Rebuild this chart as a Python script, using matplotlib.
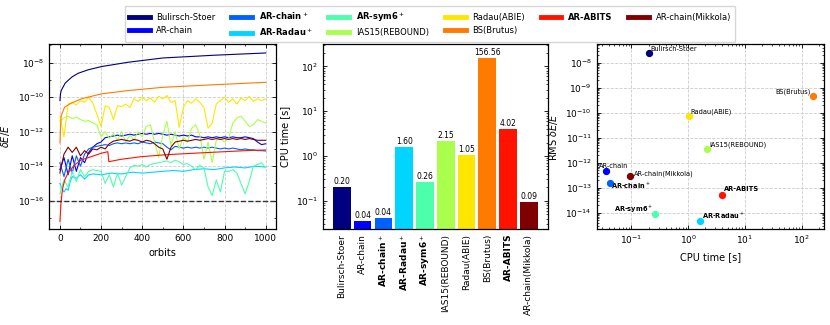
import matplotlib
matplotlib.use("Agg")
import matplotlib.pyplot as plt
import numpy as np
from matplotlib.ticker import AutoMinorLocator, LogLocator, NullFormatter

# * Data

names = ['Bulirsch-Stoer', 'AR-chain', 'AR-chain$^+$', 'AR-Radau$^+$', 'AR-sym6$^+$',
         'IAS15(REBOUND)', 'Radau(ABIE)', 'BS(Brutus)', 'AR-ABITS', 'AR-chain(Mikkola)']
bold = [False, False, True, True, True, False, False, False, True, False]

# CPU time [s] and RMS dE/E per integrator
cpu_time = [0.20, 0.036, 0.041, 1.60, 0.26, 2.15, 1.05, 156.56, 4.02, 0.094]
rms_err = [2.5e-8, 4.8e-13, 1.6e-13, 4.6e-15, 8.9e-15, 3.6e-12, 7.4e-11, 4.8e-10, 5.1e-14, 2.9e-13]

# energy error curves, log10(dE/E)
t20 = np.arange(0, 1001, 20)

bs_t = [0.5, 3, 7, 15, 25, 39, 60, 88, 136, 201, 330, 500, 750, 1000]
bs_log = [-10.2, -9.8, -9.6, -9.43, -9.2, -9.04, -8.82, -8.62, -8.42, -8.23, -7.98, -7.73, -7.57, -7.44]

arc_log = [-14.2, -13.5, -14.5, -13.4, -14.3, -13.5, -13.8, -13.2, -12.9, -12.7,
           -12.6, -12.35, -12.3, -12.25, -12.2, -12.25, -12.2, -12.15, -12.2, -12.15,
           -12.1, -12.15, -12.1, -12.15, -12.1, -12.15, -12.2, -12.15, -12.2, -12.25,
           -12.2, -12.25, -12.2, -12.3, -12.3, -12.35, -12.3, -12.35, -12.3, -12.35,
           -12.3, -12.35, -12.3, -12.35, -12.35, -12.3, -12.35, -12.4, -12.6, -12.75, -12.7]

arcp_log = [-13.8, -14.6, -13.6, -14.4, -13.4, -14.0, -13.3, -13.0, -12.9, -12.85,
            -12.8, -12.75, -12.8, -12.7, -12.65, -12.7, -12.65, -12.7, -12.65, -12.7,
            -12.6, -12.65, -12.7, -12.6, -12.65, -12.7, -12.9, -13.05, -12.85, -12.9,
            -12.95, -12.9, -12.95, -12.9, -12.95, -12.9, -12.95, -12.9, -12.95, -13.0,
            -12.95, -13.0, -12.95, -13.0, -13.05, -13.0, -13.05, -13.05, -13.1, -13.1, -13.12]

radp_t = [0, 10, 20, 30, 40, 50, 60, 80, 100, 120, 140, 160, 200, 250, 300, 350, 400,
          450, 500, 550, 600, 650, 700, 750, 800, 850, 900, 950, 1000]
radp_log = [-15.0, -15.3, -15.5, -15.3, -15.4, -14.9, -14.6, -14.7, -14.5, -14.75, -14.5,
            -14.45, -14.5, -14.4, -14.45, -14.35, -14.4, -14.35, -14.3, -14.25, -14.3,
            -14.2, -14.15, -14.2, -14.1, -14.05, -14.1, -14.0, -14.05]

sym6_log = [-15.6, -14.8, -15.2, -14.3, -14.9, -14.2, -14.6, -14.3, -14.2, -14.25,
            -14.3, -15.0, -14.5, -15.2, -14.4, -15.1, -14.6, -14.1, -13.95, -14.0,
            -13.9, -14.05, -13.9, -13.85, -13.8, -13.75, -13.7, -13.8, -13.65, -13.75,
            -13.9, -13.85, -14.0, -14.2, -13.95, -14.1, -15.2, -15.7, -14.8, -15.5,
            -14.3, -14.3, -14.2, -14.4, -15.0, -15.6, -14.9, -14.0, -13.9, -13.8, -14.1]

ias_log = [-11.4, -11.2, -11.1, -11.25, -11.15, -11.3, -11.4, -11.35, -11.5, -11.6,
           -12.3, -12.0, -12.4, -12.1, -12.5, -12.0, -12.6, -12.2, -12.5, -12.0,
           -12.3, -11.7, -11.6, -12.6, -13.5, -12.2, -11.4, -12.8, -12.0, -13.0,
           -12.3, -12.6, -11.8, -11.6, -12.2, -13.6, -12.6, -13.8, -12.5, -12.4,
           -12.6, -12.4, -11.5, -11.2, -11.1, -11.4, -11.7, -11.6, -11.3, -11.4, -11.5]

abie_log = [-11.1, -12.3, -10.4, -10.3, -10.45, -10.2, -10.3, -10.0, -10.35, -11.0,
            -11.7, -10.5, -10.6, -11.3, -10.5, -10.55, -10.4, -10.6, -10.1, -10.25,
            -10.0, -10.2, -10.05, -10.3, -9.95, -10.1, -9.9, -10.3, -10.2, -11.75,
            -10.6, -10.2, -10.35, -10.1, -10.3, -10.6, -11.8, -11.5, -10.4, -10.2,
            -10.0, -10.3, -10.1, -10.4, -10.05, -10.2, -9.95, -10.25, -10.1, -10.2, -10.1]

brutus_t = [0.5, 2, 4, 6.5, 23, 55, 104, 201, 330, 500, 750, 1000]
brutus_log = [-12.65, -12.0, -11.5, -11.07, -10.58, -10.35, -10.1, -9.81, -9.62, -9.43, -9.28, -9.14]

abits_t = [0.5, 5, 10, 15, 25, 39, 71, 104, 152, 201, 233, 238, 298, 395, 500, 600, 700, 800, 900, 1000]
abits_log = [-17.2, -16.2, -15.6, -15.2, -14.75, -14.41, -13.93, -13.64, -13.45, -13.25,
             -13.16, -13.74, -13.6, -13.45, -13.35, -13.28, -13.22, -13.16, -13.1, -13.06]

mik_log = [-14.4, -13.3, -12.9, -13.2, -12.9, -13.4, -13.1, -13.3, -13.0, -13.05,
           -12.9, -13.0, -12.7, -12.55, -12.5, -12.45, -12.5, -12.55, -12.45, -12.5,
           -12.6, -12.5, -12.55, -12.7, -12.9, -13.0, -13.6, -12.9, -12.6, -12.55,
           -12.5, -12.55, -12.5, -12.45, -12.5, -12.45, -12.4, -12.45, -12.4, -12.45,
           -12.4, -12.45, -12.4, -12.45, -12.4, -12.45, -12.4, -12.45, -12.5, -12.5, -12.5]

curves = [(bs_t, bs_log), (t20, arc_log), (t20, arcp_log), (radp_t, radp_log),
          (t20, sym6_log), (t20, ias_log), (t20, abie_log), (brutus_t, brutus_log),
          (abits_t, abits_log), (t20, mik_log)]

# label offsets (points) for the scatter panel
lab_off = [(1.5, 3), (-5, 3.5), (1, -2.5), (1.5, 3.5), (-1.5, 3.5),
           (1.5, 3), (1, 3.2), (-1, 3), (1, 4.3), (3, 1.4)]
lab_ha = ['left', 'left', 'left', 'left', 'right', 'left', 'left', 'right', 'left', 'left']

colors = plt.cm.jet(np.linspace(0, 1, len(names)))

# * Style
plt.rcParams['font.family'] = ['DejaVu Sans']
plt.rcParams['font.size'] = 6.5
plt.rcParams['axes.linewidth'] = 0.9


def style_axis(ax):
    ax.tick_params(which='both', direction='in', top=True, right=True, labelsize=6.5)
    ax.tick_params(which='major', length=3, width=0.6)
    ax.tick_params(which='minor', length=1.5, width=0.5)


fig = plt.figure(figsize=(8.3, 3.25), dpi=100)
ax1 = fig.add_axes([0.059, 0.2954, 0.2735, 0.5692])
ax2 = fig.add_axes([0.389, 0.2954, 0.271, 0.5692])
ax3 = fig.add_axes([0.719, 0.2954, 0.2735, 0.5692])

# * Panel 1 : energy error vs orbits
handles = []
for (t, lv), c, n in zip(curves, colors, names):
    h, = ax1.plot(t, 10.0 ** np.array(lv), color=c, lw=0.8, label=n)
    handles.append(h)
ax1.axhline(1e-16, color='#333333', ls='--', lw=1.0)
ax1.set_yscale('log')
ax1.set_ylim(10 ** -17.64, 10 ** -6.92)
ax1.set_yticks([1e-16, 1e-14, 1e-12, 1e-10, 1e-8])
ax1.yaxis.set_minor_locator(LogLocator(base=10, subs=(1.0,), numticks=30))
ax1.yaxis.set_minor_formatter(NullFormatter())
ax1.set_xlim(-53, 1050)
ax1.set_xticks(range(0, 1001, 200))
ax1.xaxis.set_minor_locator(AutoMinorLocator(2))
ax1.grid(True, which='major', ls='--', color='#cccccc', lw=0.6)
ax1.set_xlabel('orbits', fontsize=7)
ax1.set_ylabel(r'$\delta E/E$', fontsize=7)
style_axis(ax1)

# * Panel 2 : CPU time bars
xpos = np.arange(len(names))
ax2.bar(xpos, cpu_time, width=0.85, color=colors)
for x, v in zip(xpos, cpu_time):
    ax2.text(x, v * 1.06, f'{v:.2f}', ha='center', va='bottom', fontsize=5.5)
ax2.set_yscale('log')
ax2.set_ylim(0.0235, 316)
ax2.set_xticks(xpos)
ax2.set_xticklabels(names, rotation=90)
for lab, b in zip(ax2.get_xticklabels(), bold):
    if b:
        lab.set_fontweight('bold')
ax2.set_ylabel('CPU time [s]', fontsize=7)
style_axis(ax2)
ax2.tick_params(axis='x', which='both', top=False, bottom=False)

# * Panel 3 : accuracy vs CPU time
for x, y, c, n, b, off, ha in zip(cpu_time, rms_err, colors, names, bold, lab_off, lab_ha):
    ax3.scatter(x, y, s=18, color=c, zorder=3)
    ax3.annotate(n, (x, y), xytext=off, textcoords='offset points', ha=ha, va='center',
                 fontsize=4.8, fontweight='bold' if b else 'normal')
ax3.set_xscale('log')
ax3.set_yscale('log')
ax3.set_xlim(0.0244, 247)
ax3.set_ylim(10 ** -14.65, 10 ** -7.25)
ax3.grid(True, which='major', ls='--', color='#cccccc', lw=0.6)
ax3.set_xlabel('CPU time [s]', fontsize=7)
ax3.set_ylabel(r'RMS $\delta E/E$', fontsize=7)
style_axis(ax3)

# * Legend
leg = fig.legend(handles, names, loc='upper center', bbox_to_anchor=(0.518, 0.995), ncol=6,
                 fontsize=6, handlelength=2.5, columnspacing=1.9, borderpad=0.5,
                 labelspacing=0.5, edgecolor='#cccccc')
for line in leg.get_lines():
    line.set_linewidth(3.5)
for txt, b in zip(leg.get_texts(), bold):
    if b:
        txt.set_fontweight('bold')

fig.savefig('out.png', dpi=100)
